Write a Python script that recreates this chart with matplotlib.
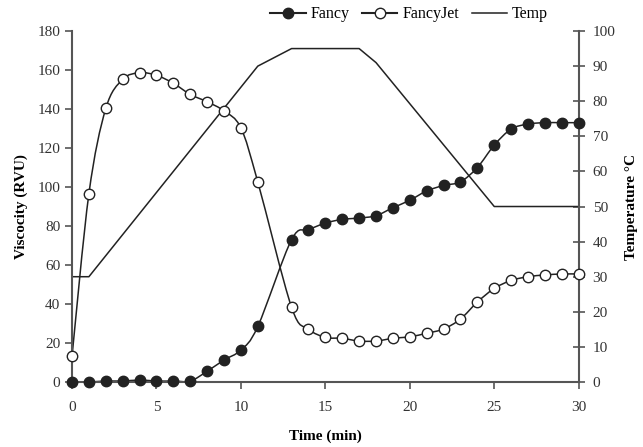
import numpy as np
import matplotlib.pyplot as plt
from matplotlib.path import Path
from matplotlib.patches import PathPatch

plt.rcParams['font.family'] = ['Liberation Serif', 'DejaVu Serif']

# time points (no reading at 12 min)
time = [0, 1, 2, 3, 4, 5, 6, 7, 8, 9, 10, 11, 13, 14, 15, 16, 17, 18, 19, 20,
        21, 22, 23, 24, 25, 26, 27, 28, 29, 30]
fancy = [0, 0, 0.5, 0.5, 1, 0.5, 0.5, 0.5, 5.5, 11.3, 16.4, 28.5, 73, 78, 81.5,
         83.4, 84.1, 85.3, 89.4, 93.2, 98, 100.8, 102.7, 110, 121.5, 129.7,
         132.3, 133, 133, 133]
fancyjet = [13.2, 96.6, 140.3, 155.2, 158.6, 157.3, 153.2, 147.5, 143.7, 139,
            130.3, 102.6, 38.3, 27.2, 22.9, 22.4, 21, 21, 22.4, 23.2, 25, 27.2,
            32.3, 41, 48, 52.1, 54, 54.9, 55.4, 55.4]
temp_time = [0, 1, 11, 13, 17, 18, 25, 30]
temp = [30, 30, 90, 95, 95, 91, 50, 50]


def smooth_path(xs, ys):
    # Excel-style smoothed line: cubic bezier through every point
    p = np.column_stack([xs, ys]).astype(float)
    n = len(p)
    verts = [p[0]]
    codes = [Path.MOVETO]
    for i in range(n - 1):
        p0 = p[i - 1] if i > 0 else p[i]
        p3 = p[i + 2] if i + 2 < n else p[i + 1]
        c1 = p[i] + (p[i + 1] - p0) / 6
        c2 = p[i + 1] - (p3 - p[i]) / 6
        verts += [c1, c2, p[i + 1]]
        codes += [Path.CURVE4] * 3
    return Path(verts, codes)


fig = plt.figure(figsize=(6.43, 4.47), dpi=100)
ax = fig.add_axes([0.112, 0.1454, 0.788, 0.7852])
ax2 = ax.twinx()

line_col = '#222222'
for ys in (fancy, fancyjet):
    ax.add_patch(PathPatch(smooth_path(time, ys), fill=False, edgecolor=line_col,
                           lw=1.1, transform=ax.transData, zorder=2))
h1, = ax.plot(time, fancy, ls='none', marker='o', ms=7.5, mfc='#222222',
              mec='#222222', mew=1, zorder=3, clip_on=False)
h2, = ax.plot(time, fancyjet, ls='none', marker='o', ms=7.5, mfc='white',
              mec='#222222', mew=1, zorder=3, clip_on=False)
h3, = ax2.plot(temp_time, temp, color=line_col, lw=1.1)

ax.set_xlim(0, 30)
ax.set_ylim(0, 180)
ax2.set_ylim(0, 100)
ax.set_xticks(range(0, 31, 5))
ax.set_yticks(range(0, 181, 20))
ax2.set_yticks(range(0, 101, 10))

for a in (ax, ax2):
    for s in a.spines.values():
        s.set_visible(False)
spine_col = '#555555'
ax.spines['left'].set_visible(True)
ax.spines['bottom'].set_visible(True)
ax2.spines['right'].set_visible(True)
for s in (ax.spines['left'], ax.spines['bottom'], ax2.spines['right']):
    s.set_color(spine_col)
    s.set_linewidth(1.5)

ax.tick_params(axis='both', direction='out', length=5, width=1.2,
               color=spine_col, labelsize=11, labelcolor='#333333')
ax.tick_params(axis='x', pad=9)
ax2.tick_params(axis='y', direction='inout', length=8, width=1.2, pad=6,
                color=spine_col, labelsize=11, labelcolor='#333333')

ax.set_xlabel('Time (min)', fontsize=11, fontweight='bold', labelpad=11)
ax.set_ylabel('Viscocity (RVU)', fontsize=11, fontweight='bold', labelpad=7)
ax2.set_ylabel('Temperature °C', fontsize=11, fontweight='bold', labelpad=7)

ax.set_zorder(ax2.get_zorder() + 1)
ax.patch.set_visible(False)

fig.legend([h1, h2, h3], ['Fancy', 'FancyJet', 'Temp'],
           loc='center', bbox_to_anchor=(0.636, 0.968), ncol=3, frameon=False,
           fontsize=11.5, handlelength=2.2, handletextpad=0.3, columnspacing=0.8)

# legend handles need a line through the markers
for lh, mfc in zip(fig.legends[0].legend_handles[:2], ['#222222', 'white']):
    lh.set_linestyle('-')
    lh.set_color(line_col)
    lh.set_markerfacecolor(mfc)

fig.savefig('out.png', dpi=100)
